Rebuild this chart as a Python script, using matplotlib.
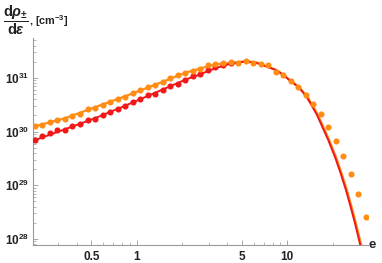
import numpy as np
import matplotlib
matplotlib.use('Agg')
import matplotlib.pyplot as plt
from matplotlib.ticker import FixedLocator, NullFormatter, FuncFormatter

# dot samples: log-spaced energy grid, values given as log10(dRho/de)
dot_e = np.logspace(-0.677, 1.523, 45)
orange_dots = [30.100, 30.132, 30.175, 30.225, 30.243, 30.292, 30.336, 30.429, 30.441, 30.491,
               30.550, 30.615, 30.645, 30.719, 30.770, 30.831, 30.862, 30.924, 31.006, 31.048,
               31.091, 31.123, 31.173, 31.234, 31.266, 31.277, 31.296, 31.284, 31.309, 31.284,
               31.253, 31.234, 31.110, 31.048, 30.942, 30.835, 30.690, 30.522, 30.323, 30.087,
               29.822, 29.543, 29.203, 28.831, 28.414]
red_dots = [29.840, 29.914, 29.965, 30.026, 30.039, 30.100, 30.138, 30.212, 30.243, 30.318,
            30.374, 30.429, 30.481, 30.546, 30.615, 30.677, 30.708, 30.782, 30.844, 30.894,
            30.968, 31.030, 31.067, 31.141, 31.203, 31.234, 31.271]

# smooth curves (log10 e, log10 value)
orange_line_x = [-0.687, -0.476, -0.277, -0.078, 0.122, 0.321, 0.520, 0.618, 0.719, 0.792,
                 0.924, 0.971, 1.022, 1.075, 1.130, 1.157, 1.201, 1.234, 1.278, 1.323,
                 1.361, 1.396, 1.427, 1.456, 1.483, 1.496]
orange_line_y = [30.091, 30.249, 30.454, 30.658, 30.872, 31.095, 31.253, 31.281, 31.309, 31.290,
                 31.151, 31.067, 30.946, 30.835, 30.665, 30.540, 30.325, 30.120, 29.845, 29.530,
                 29.221, 28.911, 28.600, 28.292, 27.981, 27.830]
red_line_x = [-0.687, -0.476, -0.277, -0.078, 0.122, 0.321, 0.420, 0.520, 0.618, 0.719, 0.792,
              0.924, 0.971, 1.022, 1.073, 1.124, 1.151, 1.195, 1.228, 1.272, 1.317,
              1.355, 1.390, 1.421, 1.450, 1.477, 1.490]
red_line_y = [29.831, 30.045, 30.249, 30.481, 30.723, 30.965, 31.067, 31.178, 31.262, 31.303, 31.284,
              31.148, 31.062, 30.940, 30.835, 30.665, 30.540, 30.325, 30.120, 29.845, 29.530,
              29.221, 28.911, 28.600, 28.292, 27.981, 27.830]

x_ticks = [0.5, 1, 5, 10]
y_ticks = [1e28, 1e29, 1e30, 1e31]

plt.rcParams['font.family'] = 'Liberation Sans'
plt.rcParams['font.weight'] = 'bold'
plt.rcParams['mathtext.fontset'] = 'custom'
plt.rcParams['mathtext.rm'] = 'Liberation Sans:bold'
plt.rcParams['mathtext.it'] = 'Liberation Sans:italic:bold'
plt.rcParams['mathtext.bf'] = 'Liberation Sans:bold'
plt.rcParams['mathtext.fallback'] = 'stixsans'

orange = '#FF8C14'
red = '#F01818'

fig = plt.figure(figsize=(3.82, 2.63), dpi=100)
ax = fig.add_axes([0.0872, 0.0673, 0.8768, 0.7867])
ax.set_xscale('log')
ax.set_yscale('log')

ax.plot(10 ** np.array(orange_line_x), 10 ** np.array(orange_line_y), color=orange, lw=1.6,
        solid_capstyle='butt', zorder=2)
ax.plot(10 ** np.array(red_line_x), 10 ** np.array(red_line_y), color=red, lw=1.4,
        solid_capstyle='butt', zorder=3)
ax.plot(dot_e[:len(red_dots)], 10 ** np.array(red_dots), 'o', color=red, ms=4.4, mew=0, zorder=4)
ax.plot(dot_e, 10 ** np.array(orange_dots), 'o', color=orange, ms=4.4, mew=0, zorder=5)

ax.set_xlim(10 ** -0.687, 10 ** 1.538)
ax.set_ylim(10 ** 27.883, 10 ** 31.736)

for s in ['top', 'right']:
    ax.spines[s].set_visible(False)
for s in ['left', 'bottom']:
    ax.spines[s].set_color('#9a9a9a')
    ax.spines[s].set_linewidth(0.8)

ax.xaxis.set_major_locator(FixedLocator(x_ticks))
ax.xaxis.set_major_formatter(FuncFormatter(lambda v, p: f'{v:g}'))
minor_x = [m * 10.0 ** k for k in (-1, 0, 1) for m in range(2, 10)]
ax.xaxis.set_minor_locator(FixedLocator([v for v in minor_x if v not in x_ticks]))
ax.xaxis.set_minor_formatter(NullFormatter())

ax.yaxis.set_major_locator(FixedLocator(y_ticks))
ax.yaxis.set_major_formatter(FuncFormatter(lambda v, p: r'$\mathbf{10^{%d}}$' % round(np.log10(v))))
ax.yaxis.set_minor_locator(FixedLocator([m * 10.0 ** k for k in (27, 28, 29, 30, 31) for m in range(2, 10)]))
ax.yaxis.set_minor_formatter(NullFormatter())

ax.tick_params(which='both', direction='in', color='#9a9a9a', labelcolor='#222222', labelsize=8.5)
ax.tick_params(which='major', length=3.5, width=0.6)
ax.tick_params(which='minor', length=2, width=0.5)
ax.tick_params(axis='y', pad=3)
ax.tick_params(axis='x', pad=4)

fig.text(0.965, 0.0673, 'e', ha='left', va='center', fontsize=9.5, fontweight='bold', color='#222222')
fig.text(0.008, 0.922, r'$\dfrac{\mathrm{d}\rho_{\pm}}{\mathrm{d}\epsilon}$',
         ha='left', va='center', fontsize=10.5, fontweight='bold', color='#222222')
fig.text(0.077, 0.921, ', [cm$^{-3}$]',
         ha='left', va='center', fontsize=7.8, fontweight='bold', color='#222222')

fig.savefig('out.png', dpi=100)
